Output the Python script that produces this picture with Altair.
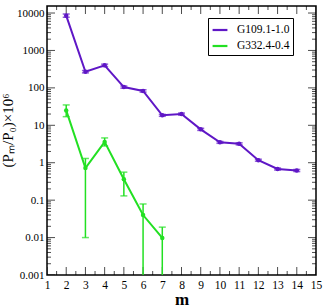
import altair as alt
import pandas as pd

# ---- data ----
series_names = ["G109.1-1.0", "G332.4-0.4"]
colors = ["#5f17c6", "#22e022"]

m_a = [2, 3, 4, 5, 6, 7, 8, 9, 10, 11, 12, 13, 14]
p_a = [8500, 270, 400, 105, 83, 18.5, 20, 7.8, 3.5, 3.2, 1.17, 0.68, 0.62]
p_a_hi = [9400, 290, 430, 112, 89, 19.6, 21.2, 8.3, 3.7, 3.4, 1.24, 0.72, 0.66]
p_a_lo = [7700, 252, 372, 98, 77, 17.4, 18.8, 7.3, 3.3, 3.0, 1.10, 0.64, 0.58]

m_b = [2, 3, 4, 5, 6, 7]
p_b = [25, 0.72, 3.6, 0.36, 0.040, 0.0098]
p_b_hi = [35, 1.3, 4.6, 0.56, 0.079, 0.019]
p_b_lo = [17, 0.01, 2.8, 0.13, 0.0005, 0.0005]

x_major = list(range(1, 16))
x_minor = [v + 0.5 for v in range(1, 15)]
y_major = [0.001, 0.01, 0.1, 1, 10, 100, 1000, 10000]
y_minor = [k * 10.0 ** e for e in range(-3, 4) for k in range(2, 10)]

X_MIN, X_MAX = 1, 15
Y_MIN, Y_MAX = 0.001, 15400

rows = []
for m, v, lo, hi in zip(m_a, p_a, p_a_lo, p_a_hi):
    rows.append(dict(s=series_names[0], m=m, v=v, lo=lo, hi=hi))
for m, v, lo, hi in zip(m_b, p_b, p_b_lo, p_b_hi):
    rows.append(dict(s=series_names[1], m=m, v=v, lo=lo, hi=hi))
df = pd.DataFrame(rows)

# frame tick tables (inward ticks: a centred tick on the frame, outer half clipped)
xt = pd.DataFrame(
    [dict(t=t, side=s, len=16) for s in (Y_MIN, Y_MAX) for t in x_major]
    + [dict(t=t, side=s, len=8) for s in (Y_MIN, Y_MAX) for t in x_minor]
)
yt = pd.DataFrame(
    [dict(t=t, side=s, len=16) for s in (X_MIN, X_MAX) for t in y_major]
    + [dict(t=t, side=s, len=8) for s in (X_MIN, X_MAX) for t in y_minor]
)

FONT = "Liberation Serif"
xscale = alt.Scale(domain=[X_MIN, X_MAX], nice=False, zero=False)
yscale = alt.Scale(type="log", domain=[Y_MIN, Y_MAX], nice=False)
cscale = alt.Scale(domain=series_names, range=colors)

x_axis = alt.Axis(orient="bottom", values=x_major, tickSize=0, domain=False, grid=False,
                  labelOverlap=False, labelFlush=False,
                  labelFont=FONT, labelFontSize=11.5, labelColor="black",
                  labelPadding=4, title="m", titleFont=FONT, titleFontSize=17,
                  titleFontWeight="bold", titleColor="black", titlePadding=1)
y_axis = alt.Axis(orient="left", values=y_major, tickSize=0, domain=False, grid=False,
                  labelOverlap=False, labelFlush=False,
                  format="~g", labelFont=FONT, labelFontSize=11,
                  labelColor="black", labelPadding=3,
                  title="(Pₘ/P₀)×10⁶", titleFont=FONT, titleFontSize=15,
                  titleFontWeight="normal", titleColor="black",
                  titlePadding=1, titleY=124)

legend = alt.Legend(
    title=None, orient="none", legendX=161, legendY=12,
    strokeColor="black", fillColor="white", padding=3, rowPadding=1,
    labelFont=FONT, labelFontSize=11.5, labelColor="black", labelOffset=8,
    symbolStrokeWidth=2.2, symbolSize=220,
)

base = alt.Chart(df)

lines = base.mark_line(strokeWidth=2).encode(
    x=alt.X("m:Q", scale=xscale, axis=x_axis),
    y=alt.Y("v:Q", scale=yscale, axis=y_axis),
    color=alt.Color("s:N", scale=cscale, legend=legend),
)

points = base.mark_point(filled=True, size=20, opacity=1).encode(
    x=alt.X("m:Q", scale=xscale, axis=None),
    y=alt.Y("v:Q", scale=yscale, axis=None),
    color=alt.Color("s:N", scale=cscale, legend=None),
)

errs = base.mark_rule(strokeWidth=1.5, clip=True).encode(
    x=alt.X("m:Q", scale=xscale, axis=None),
    y=alt.Y("lo:Q", scale=yscale, axis=None),
    y2="hi:Q",
    color=alt.Color("s:N", scale=cscale, legend=None),
)

caps_hi = base.mark_tick(orient="horizontal", size=7, thickness=1.5, clip=True).encode(
    x=alt.X("m:Q", scale=xscale, axis=None),
    y=alt.Y("hi:Q", scale=yscale, axis=None),
    color=alt.Color("s:N", scale=cscale, legend=None),
)

caps_lo = base.mark_tick(orient="horizontal", size=7, thickness=1.5, clip=True).encode(
    x=alt.X("m:Q", scale=xscale, axis=None),
    y=alt.Y("lo:Q", scale=yscale, axis=None),
    color=alt.Color("s:N", scale=cscale, legend=None),
)

x_ticks = alt.Chart(xt).mark_tick(orient="vertical", thickness=1, color="black",
                                  clip=True).encode(
    x=alt.X("t:Q", scale=xscale, axis=None),
    y=alt.Y("side:Q", scale=yscale, axis=None),
    size=alt.Size("len:Q", scale=None, legend=None),
)

y_ticks = alt.Chart(yt).mark_tick(orient="horizontal", thickness=1, color="black",
                                  clip=True).encode(
    x=alt.X("side:Q", scale=xscale, axis=None),
    y=alt.Y("t:Q", scale=yscale, axis=None),
    size=alt.Size("len:Q", scale=None, legend=None),
)

chart = (
    alt.layer(lines, x_ticks, y_ticks, errs, caps_hi, caps_lo, points)
    .resolve_scale(x="shared", y="shared")
    .resolve_axis(x="independent", y="independent")
    .properties(
        width=269, height=269,
        autosize=alt.AutoSizeParams(type="none"),
        padding={"left": 47, "top": 6, "right": 10, "bottom": 33},
        background="white",
    )
    .configure_view(stroke="black", strokeWidth=1.5)
)

chart.save("out.html", embed_options={"renderer": "svg", "actions": False})
